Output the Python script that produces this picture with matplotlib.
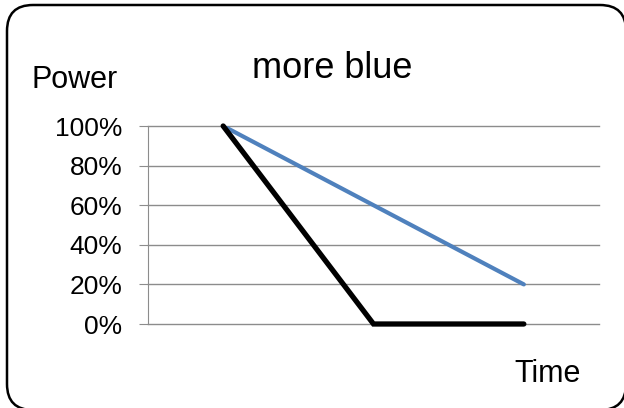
import matplotlib.pyplot as plt
from matplotlib.patches import FancyBboxPatch
from matplotlib.transforms import IdentityTransform

categories = ["1", "2", "3"]
blue_values = [100, 60, 20]
black_values = [100, 0, 0]
y_ticks = [0, 20, 40, 60, 80, 100]

plt.rcParams["font.family"] = ["Liberation Sans", "DejaVu Sans"]

fig = plt.figure(figsize=(6.24, 4.08), dpi=100)
ax = fig.add_axes([148 / 624, 1 - 324 / 408, 451 / 624, 198 / 408])

x = list(range(len(categories)))

# gridlines drawn by hand so the 0% one is not clipped at the edge
for v in y_ticks:
    ax.axhline(v, color="#8c8c8c", linewidth=1, clip_on=False, zorder=1)

ax.plot(x, blue_values, color="#4F81BD", linewidth=3, solid_capstyle="round",
        zorder=3)
ax.plot(x, black_values, color="black", linewidth=3.8, solid_capstyle="round",
        solid_joinstyle="miter", clip_on=False, zorder=3)

ax.set_xlim(-0.5, len(categories) - 0.5)
ax.set_ylim(0, 100)
ax.set_yticks(y_ticks)
ax.set_yticklabels([f"{v}%" for v in y_ticks], fontsize=19)
ax.set_xticks([])
for side in ["top", "right", "bottom"]:
    ax.spines[side].set_visible(False)
ax.spines["left"].set_color("#8c8c8c")
ax.tick_params(axis="y", length=6.5, color="#8c8c8c", pad=12)

fig.text(332 / 624, 1 - 68 / 408, "more blue", fontsize=26, ha="center", va="center")
fig.text(75 / 624, 1 - 80 / 408, "Power", fontsize=22, ha="center", va="center")
fig.text(548 / 624, 1 - 374 / 408, "Time", fontsize=22, ha="center", va="center")

# chart frame in pixels; it runs slightly off the right and bottom edges.
# filled white (and drawn first) so agg doesn't clip the curves badly
border = FancyBboxPatch((7, -2), 619, 405,
                        boxstyle="round,pad=0,rounding_size=26",
                        transform=IdentityTransform(), facecolor="white",
                        edgecolor="black", linewidth=1.8, zorder=-1)
fig.patches.append(border)

fig.savefig("out.png", dpi=100)
